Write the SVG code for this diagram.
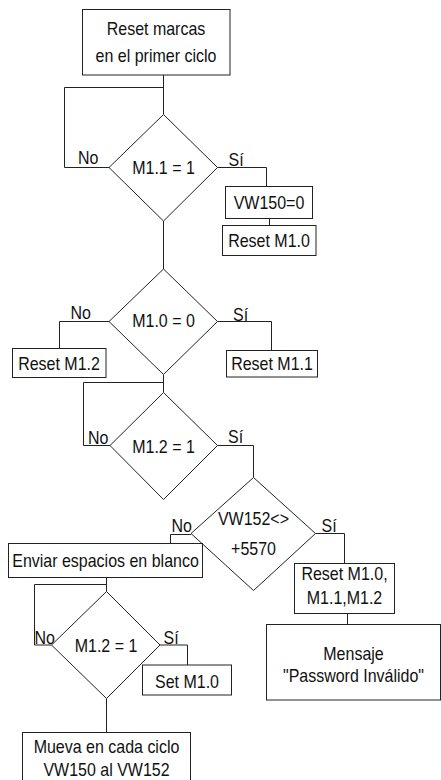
<svg xmlns="http://www.w3.org/2000/svg" width="441" height="780" viewBox="0 0 441 780">
<style>
.n{fill:#fff;stroke:#222;stroke-width:1}
.c{fill:none;stroke:#222;stroke-width:1}
text{font-family:"Liberation Sans",Arial,sans-serif;font-size:17.5px;fill:#111}
.m{text-anchor:middle}
</style>
<rect width="441" height="780" fill="#fff"/>
<g id="connectors">
<path class="c" d="M163.5,75 V114.5"/>
<path class="c" d="M163.5,87.5 H64.5 V167.5 H109"/>
<path class="c" d="M163.5,221 V269"/>
<path class="c" d="M217.5,167.5 H266.5 V186.5"/>
<path class="c" d="M269.5,218.5 V225.5"/>
<path class="c" d="M109,321.5 H59.5 V348.5"/>
<path class="c" d="M217.5,321.5 H271.5 V350.5"/>
<path class="c" d="M163.5,374.5 V392.5"/>
<path class="c" d="M163.5,382.5 H83.5 V445.5 H110"/>
<path class="c" d="M217.5,445.5 H253.5 V477.5"/>
<path class="c" d="M191,534.5 H170.5 V543.5"/>
<path class="c" d="M315.5,533.5 H344.5 V563.5"/>
<path class="c" d="M347.5,613.5 V624.5"/>
<path class="c" d="M106.5,577.5 V591.5"/>
<path class="c" d="M106.5,584.5 H34.5 V645 H51.5"/>
<path class="c" d="M160,645 H187.5 V665"/>
<path class="c" d="M106.5,698.5 V732.5"/>
<text transform="matrix(0.914 0 0 1 78 164)">No</text>
<text transform="matrix(0.914 0 0 1 228.5 165.5)">Sí</text>
<text transform="matrix(0.914 0 0 1 70.5 319)">No</text>
<text transform="matrix(0.914 0 0 1 233 321)">Sí</text>
<text transform="matrix(0.914 0 0 1 88 444)">No</text>
<text transform="matrix(0.914 0 0 1 228 443)">Sí</text>
<text transform="matrix(0.914 0 0 1 171.5 532)">No</text>
<text transform="matrix(0.914 0 0 1 321.5 532)">Sí</text>
<text transform="matrix(0.914 0 0 1 34.5 643.5)">No</text>
<text transform="matrix(0.914 0 0 1 163.5 643.5)">Sí</text>
</g>
<g id="start">
<rect class="n" x="82.5" y="9.5" width="147.5" height="65.5"/>
<text class="m" transform="matrix(0.914 0 0 1 156 35)">Reset marcas</text>
<text class="m" transform="matrix(0.914 0 0 1 156 62)">en el primer ciclo</text>
</g>
<g id="d1">
<polygon class="n" points="163.5,114.5 217.5,167.5 163.5,221 109,167.5"/>
<text class="m" transform="matrix(0.914 0 0 1 163.5 174)">M1.1 = 1</text>
</g>
<g id="vw150">
<rect class="n" x="225.5" y="186.5" width="87" height="32"/>
<text class="m" transform="matrix(0.914 0 0 1 269 208.5)">VW150=0</text>
</g>
<g id="resetm10a">
<rect class="n" x="222.5" y="225.5" width="93.5" height="30"/>
<text class="m" transform="matrix(0.914 0 0 1 269 247)">Reset M1.0</text>
</g>
<g id="d2">
<polygon class="n" points="163.5,269 217.5,321.5 163.5,374.5 109,321.5"/>
<text class="m" transform="matrix(0.914 0 0 1 163.5 327)">M1.0 = 0</text>
</g>
<g id="resetm12">
<rect class="n" x="12.5" y="348.5" width="93.5" height="29"/>
<text class="m" transform="matrix(0.914 0 0 1 59 369.5)">Reset M1.2</text>
</g>
<g id="resetm11">
<rect class="n" x="226.5" y="350.5" width="91" height="26.5"/>
<text class="m" transform="matrix(0.914 0 0 1 272 369.5)">Reset M1.1</text>
</g>
<g id="d3">
<polygon class="n" points="163.5,392.5 217.5,445.5 163.5,499.5 110,445.5"/>
<text class="m" transform="matrix(0.914 0 0 1 163.5 452.5)">M1.2 = 1</text>
</g>
<g id="d4">
<polygon class="n" points="253.5,477.5 315.5,533.5 253.5,590.5 191,533.5"/>
<text class="m" transform="matrix(0.914 0 0 1 253.5 525)">VW152&lt;&gt;</text>
<text class="m" transform="matrix(0.914 0 0 1 253.5 555)">+5570</text>
</g>
<g id="enviar">
<rect class="n" x="8.5" y="543.5" width="194" height="34"/>
<text class="m" transform="matrix(0.914 0 0 1 105.5 567)">Enviar espacios en blanco</text>
</g>
<g id="resetall">
<rect class="n" x="294.5" y="563.5" width="100" height="50"/>
<text class="m" transform="matrix(0.914 0 0 1 344.5 580)">Reset M1.0,</text>
<text class="m" transform="matrix(0.914 0 0 1 344.5 604)">M1.1,M1.2</text>
</g>
<g id="mensaje">
<rect class="n" x="266.5" y="624.5" width="174" height="75.5"/>
<text class="m" transform="matrix(0.914 0 0 1 353.5 660)">Mensaje</text>
<text class="m" transform="matrix(0.914 0 0 1 353.5 682)">"Password Inválido"</text>
</g>
<g id="d5">
<polygon class="n" points="106.5,591.5 160,645 106.5,698.5 51.5,645"/>
<text class="m" transform="matrix(0.914 0 0 1 106 651.5)">M1.2 = 1</text>
</g>
<g id="setm10">
<rect class="n" x="142.5" y="665" width="89" height="30"/>
<text class="m" transform="matrix(0.914 0 0 1 187 688)">Set M1.0</text>
</g>
<g id="mueva">
<rect class="n" x="22.5" y="732.5" width="168" height="55"/>
<text class="m" transform="matrix(0.914 0 0 1 106.5 753)">Mueva en cada ciclo</text>
<text class="m" transform="matrix(0.914 0 0 1 106.5 776)">VW150 al VW152</text>
</g>
</svg>
